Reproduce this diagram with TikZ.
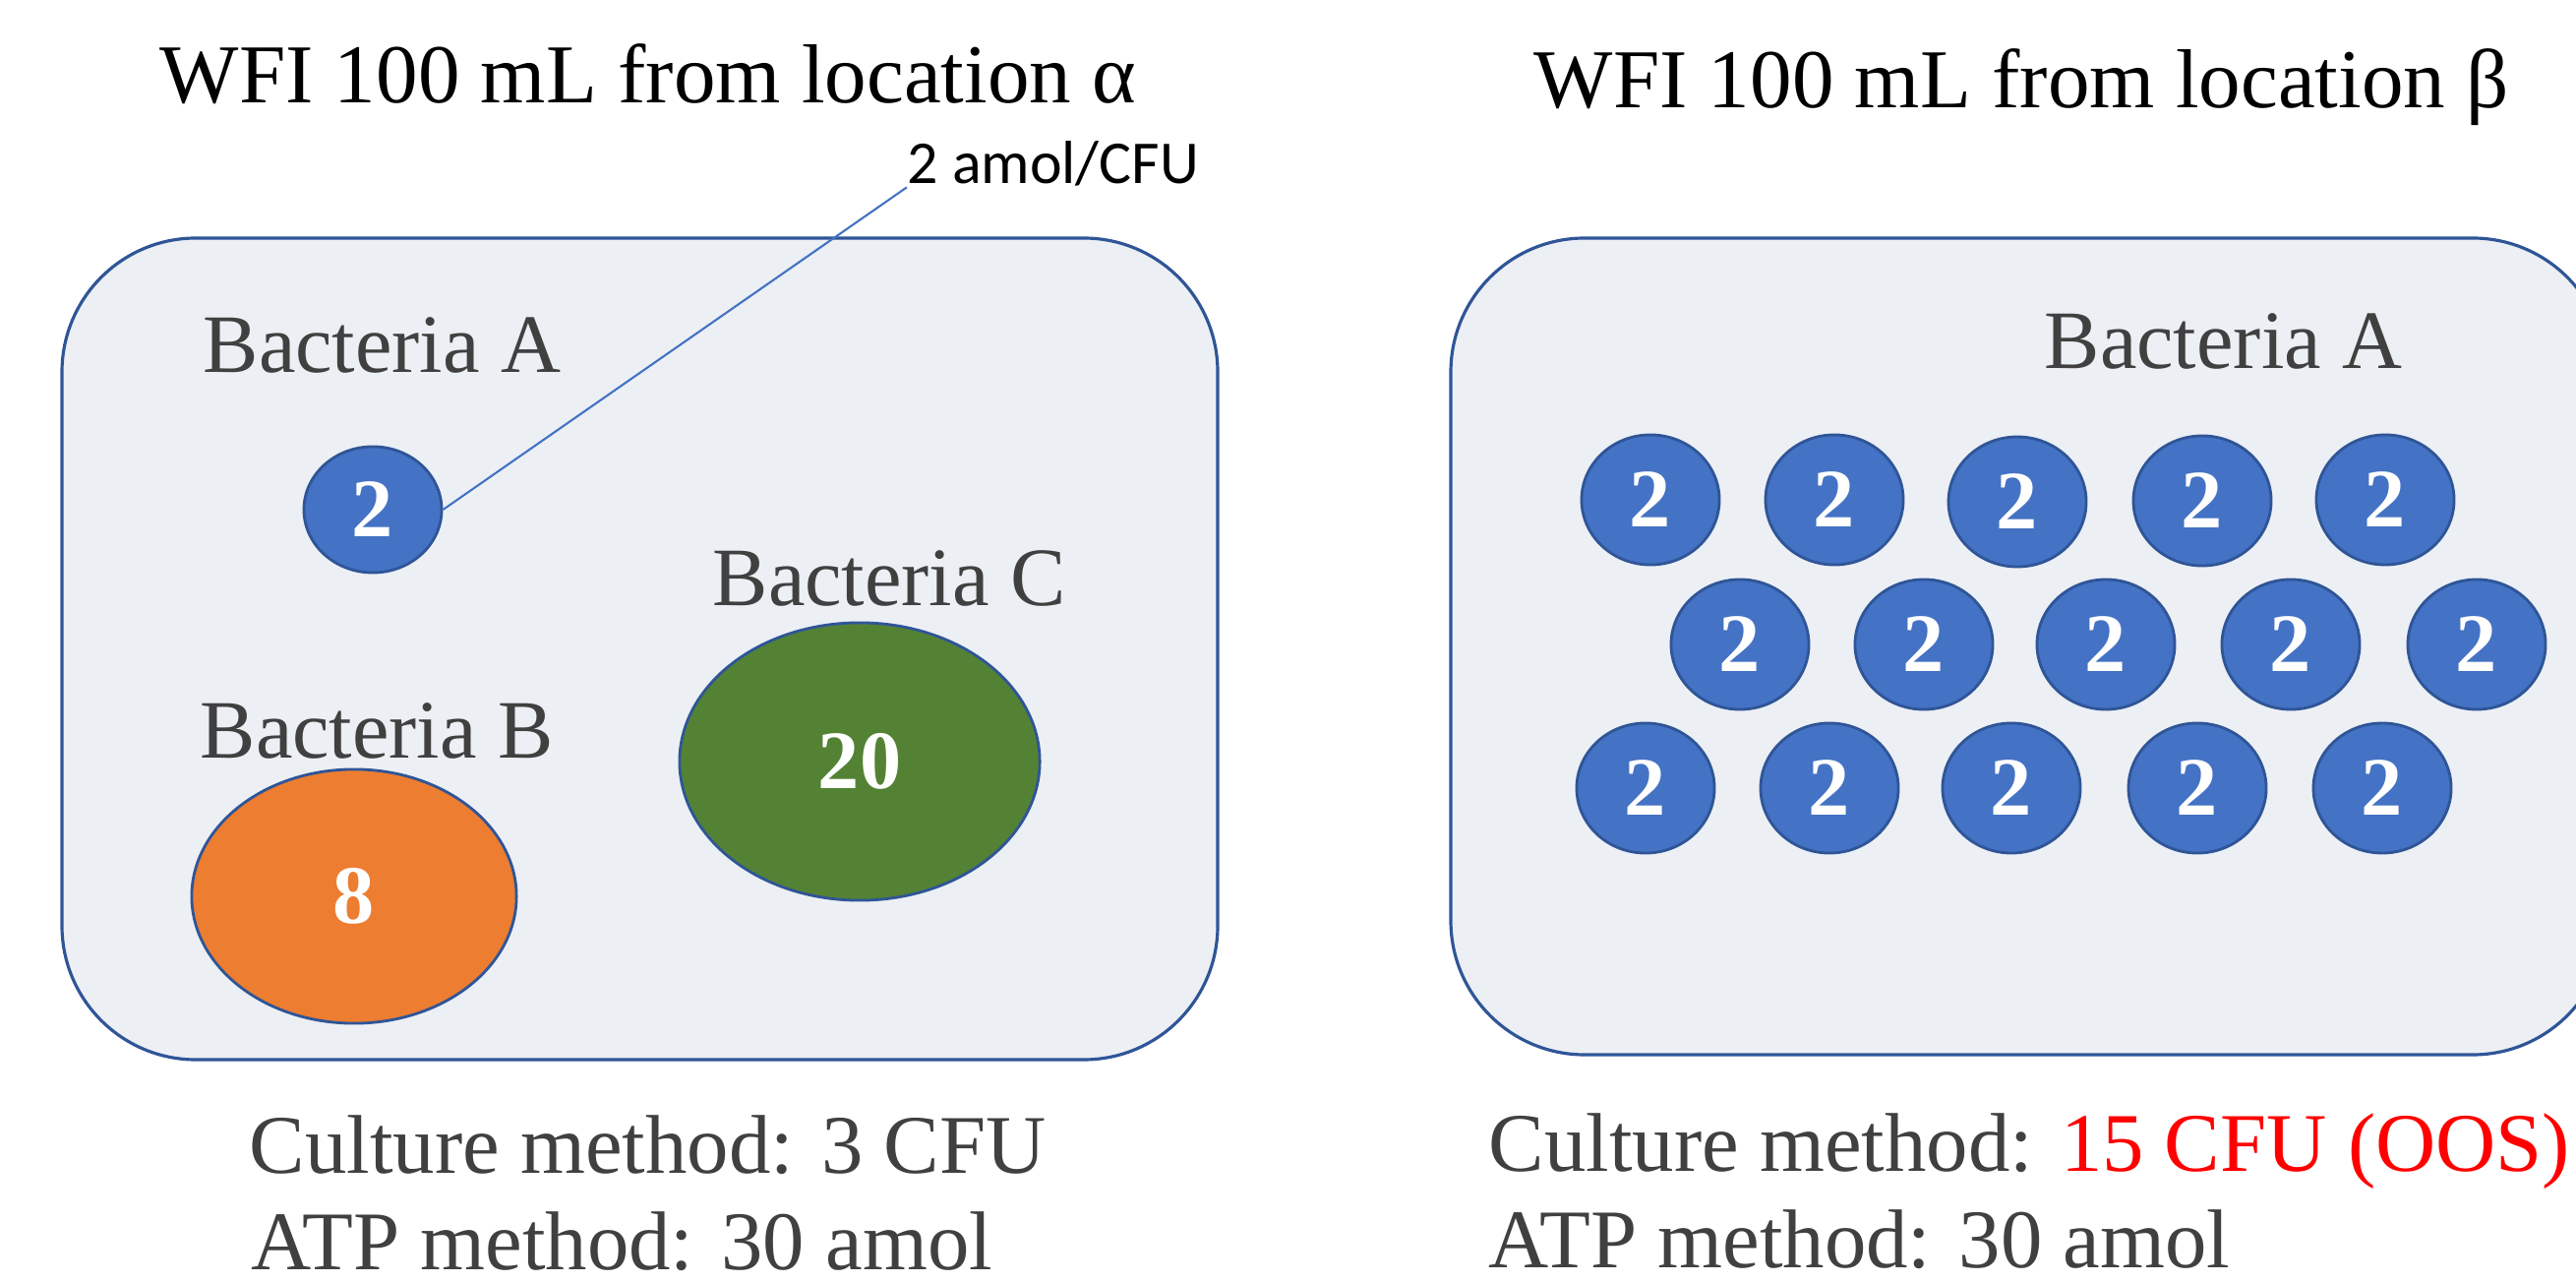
\documentclass[tikz,border=0pt]{standalone}
\usepackage{fontspec}
\setmainfont{Liberation Serif}
\newfontfamily\calibri{Carlito}
\usetikzlibrary{shapes.geometric}
\definecolor{boxfill}{HTML}{ECEFF4}
\definecolor{boxline}{HTML}{2F5597}
\definecolor{cellblue}{HTML}{4472C4}
\definecolor{cellorange}{HTML}{ED7D31}
\definecolor{cellgreen}{HTML}{548235}
\definecolor{labelgray}{HTML}{404040}
\definecolor{oosred}{HTML}{FF0000}
\tikzset{
  tank/.style={draw=boxline,fill=boxfill,line width=0.9pt,rounded corners=1.36cm},
  cell/.style={ellipse,draw=boxline,line width=0.8pt,inner sep=0pt,text=white,
    font=\fontsize{24}{28}\selectfont\bfseries},
  small cell/.style={cell,fill=cellblue,minimum width=1.40cm,minimum height=1.32cm},
  title/.style={anchor=base west,inner sep=0pt,font=\fontsize{24.2}{29}\selectfont},
  species/.style={anchor=base west,inner sep=0pt,text=labelgray,font=\fontsize{24}{28}\selectfont},
  result/.style={anchor=base west,inner sep=0pt,text=labelgray,font=\fontsize{24.1}{29}\selectfont}
}
\begin{document}
\begin{tikzpicture}[x=0.01cm,y=-0.01cm]
\useasboundingbox (0,0) rectangle (2619,1304);
\clip (0,0) rectangle (2619,1304);
% location alpha
\draw[tank] (63,242) rectangle (1238,1077);
\node[title] (titleA) at (162,105) {WFI 100 mL from location α};
\node[species] (nameA) at (206,379) {Bacteria A};
\node[species] (nameC) at (724,616) {Bacteria C};
\node[species] (nameB) at (203,771) {Bacteria B};
\node[small cell,minimum height=1.28cm] (cellA) at (379,518) {2};
\node[cell,fill=cellgreen,minimum width=3.66cm,minimum height=2.82cm] (cellC) at (874,774) {20};
\node[cell,fill=cellorange,minimum width=3.30cm,minimum height=2.58cm] (cellB) at (360,911) {8};
\node[anchor=base west,inner sep=0pt,font=\calibri\fontsize{17.6}{21}\selectfont] (perCFU) at (922,187) {2 amol/CFU};
\draw[cellblue,line width=0.6pt] (perCFU.south west) -- (cellA.east);
\node[result] (cultureA) at (253,1192) {Culture method: 3 CFU};
\node[result] (atpA) at (255,1290) {ATP method: 30 amol};
% location beta
\draw[tank] (1475,242) rectangle (2650,1072);
\node[title] (titleB) at (1559,110) {WFI 100 mL from location β};
\node[species] (nameRA) at (2078,375) {Bacteria A};
\node[small cell] (r1c1) at (1678,508) {2};
\node[small cell] (r1c2) at (1865,508) {2};
\node[small cell] (r1c3) at (2051,510) {2};
\node[small cell] (r1c4) at (2239,509) {2};
\node[small cell] (r1c5) at (2425,508) {2};
\node[small cell] (r2c1) at (1769,655) {2};
\node[small cell] (r2c2) at (1956,655) {2};
\node[small cell] (r2c3) at (2141,655) {2};
\node[small cell] (r2c4) at (2329,655) {2};
\node[small cell] (r2c5) at (2518,655) {2};
\node[small cell] (r3c1) at (1673,801) {2};
\node[small cell] (r3c2) at (1860,801) {2};
\node[small cell] (r3c3) at (2045,801) {2};
\node[small cell] (r3c4) at (2234,801) {2};
\node[small cell] (r3c5) at (2422,801) {2};
\node[result] (cultureB) at (1513,1190) {Culture method: \textcolor{oosred}{15 CFU (OOS)}};
\node[result] (atpB) at (1513,1288) {ATP method: 30 amol};
\end{tikzpicture}
\end{document}
